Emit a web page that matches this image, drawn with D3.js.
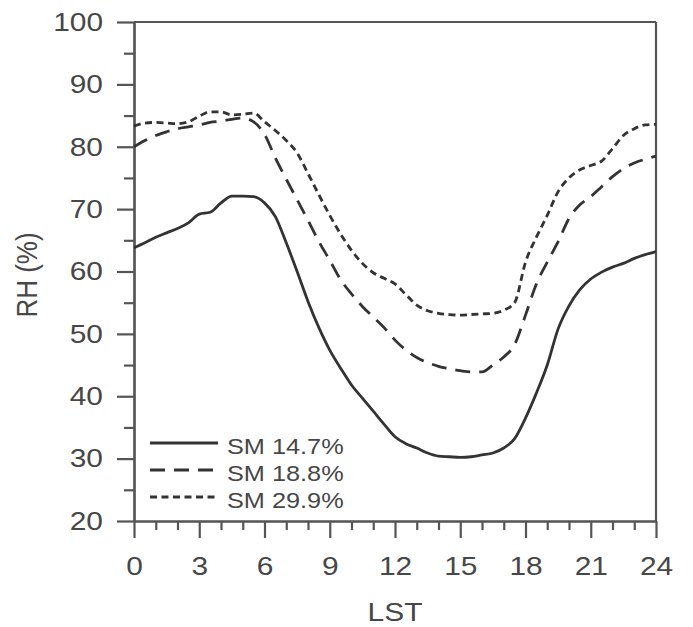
<!DOCTYPE html>
<html>
<head>
<meta charset="utf-8">
<script src="https://cdn.jsdelivr.net/npm/d3@7"></script>
<style>
  body { margin: 0; background: #fff; }
  text { font-family: "Liberation Sans", Arial, sans-serif; }
</style>
</head>
<body>
<div id="chartPlaceholder"></div>
<script>
// local solar time (h), half-hour steps
const hours = [0, 0.5, 1, 1.5, 2, 2.5, 3, 3.5, 4, 4.5, 5, 5.5, 6, 6.5, 7, 7.5, 8, 8.5, 9, 9.5, 10, 10.5, 11, 11.5,
  12, 12.5, 13, 13.5, 14, 14.5, 15, 15.5, 16, 16.5, 17, 17.5, 18, 18.5, 19, 19.5, 20, 20.5, 21, 21.5, 22, 22.5, 23, 23.5, 24];

// RH (%) for each soil moisture case
const rhSM147 = [63.8, 64.6, 65.5, 66.2, 66.9, 67.8, 69.2, 69.5, 71.0, 72.1, 72.1, 72.0, 71.0, 68.8, 64.6, 60.0,
  55.2, 51.0, 47.4, 44.5, 41.8, 39.7, 37.6, 35.5, 33.5, 32.4, 31.7, 30.9, 30.4, 30.3, 30.2, 30.3, 30.6, 30.9,
  31.7, 33.2, 36.5, 40.5, 45.0, 50.8, 54.5, 57.1, 58.8, 59.9, 60.7, 61.3, 62.1, 62.7, 63.2];
const rhSM188 = [80.0, 81.0, 81.8, 82.4, 82.9, 83.2, 83.5, 83.9, 84.1, 84.4, 84.6, 84.0, 82.0, 78.2, 74.8, 71.5,
  68.2, 64.8, 61.8, 58.7, 56.4, 54.4, 52.7, 51.0, 49.0, 47.4, 46.2, 45.4, 44.8, 44.4, 44.1, 43.9, 43.9, 45.0,
  46.3, 48.3, 53.0, 58.0, 61.5, 64.8, 68.5, 70.7, 72.0, 73.6, 75.2, 76.5, 77.4, 78.0, 78.5];
const rhSM299 = [83.3, 83.8, 83.9, 83.8, 83.7, 84.0, 84.9, 85.6, 85.6, 85.1, 85.2, 85.4, 84.0, 82.6, 81.0, 79.0,
  75.7, 72.3, 69.0, 66.0, 63.4, 61.3, 59.8, 58.9, 58.0, 56.3, 54.6, 53.7, 53.3, 53.1, 53.0, 53.1, 53.2, 53.3,
  53.8, 55.0, 61.5, 65.5, 69.0, 72.8, 75.0, 76.3, 77.0, 77.7, 79.7, 81.8, 82.9, 83.5, 83.6];

const seriesNames = ["SM 14.7%", "SM 18.8%", "SM 29.9%"];
const xMajorTicks = [0, 3, 6, 9, 12, 15, 18, 21, 24];
const xMinorTicks = [1, 2, 4, 5, 7, 8, 10, 11, 13, 14, 16, 17, 19, 20, 22, 23];
const yMajorTicks = [20, 30, 40, 50, 60, 70, 80, 90, 100];
const yMinorTicks = [25, 35, 45, 55, 65, 75, 85, 95];

const dashes = ["none", "15,9", "7,4.5"];
const stretch = 1.15; // reference text is a bit wider than Arial

const margin = { top: 22, right: 37, bottom: 106, left: 134 },
  width = 693 - margin.left - margin.right,
  height = 627 - margin.top - margin.bottom;

const root = d3
  .select("#chartPlaceholder")
  .append("svg")
  .attr("width", 693)
  .attr("height", 627);

const svg = root.append("g").attr("transform", `translate(${margin.left}, ${margin.top})`);

const x = d3.scaleLinear().domain([0, 24]).range([0, width]);
const y = d3.scaleLinear().domain([20, 100]).range([height, 0]);

const axisColor = "#555";
const textColor = "#474747";

// minor ticks first
svg
  .append("g")
  .attr("transform", `translate(0, ${height})`)
  .call(d3.axisBottom(x).tickValues(xMinorTicks).tickSize(9).tickFormat("").tickSizeOuter(0));
svg.append("g").call(d3.axisLeft(y).tickValues(yMinorTicks).tickSize(10).tickFormat("").tickSizeOuter(0));

// major x axis
const xAxis = svg
  .append("g")
  .attr("transform", `translate(0, ${height})`)
  .call(d3.axisBottom(x).tickValues(xMajorTicks).tickSize(17).tickPadding(19).tickSizeOuter(0));
xAxis
  .selectAll("text")
  .style("font-size", "26px")
  .attr("fill", textColor)
  .attr("transform", `scale(${stretch},1)`);

// major y axis
const yAxis = svg
  .append("g")
  .call(d3.axisLeft(y).tickValues(yMajorTicks).tickSize(17).tickPadding(14).tickSizeOuter(0));
yAxis
  .selectAll("text")
  .style("font-size", "26px")
  .attr("fill", textColor)
  .attr("x", -31 / stretch)
  .attr("transform", `scale(${stretch},1)`);

svg.selectAll(".domain, .tick line").attr("stroke", axisColor).attr("stroke-width", 2.2);

// top and right frame
svg.append("line").attr("x1", 0).attr("x2", width).attr("y1", 0).attr("y2", 0)
  .attr("stroke", axisColor).attr("stroke-width", 2.2);
svg.append("line").attr("x1", width).attr("x2", width).attr("y1", 0).attr("y2", height)
  .attr("stroke", axisColor).attr("stroke-width", 2.2);

// lines
const allSeries = [rhSM147, rhSM188, rhSM299];
const line = d3
  .line()
  .x((d, i) => x(hours[i]))
  .y((d) => y(d))
  .curve(d3.curveMonotoneX);

allSeries.forEach((values, i) => {
  svg
    .append("path")
    .datum(values)
    .attr("fill", "none")
    .attr("stroke", "#333")
    .attr("stroke-width", 2.8)
    .attr("stroke-dasharray", dashes[i])
    .attr("d", line);
});

// legend
const legend = root.append("g").attr("transform", "translate(150, 443)");
seriesNames.forEach((name, i) => {
  const row = legend.append("g").attr("transform", `translate(0, ${i * 27})`);
  row.append("line")
    .attr("x1", 0).attr("x2", 68).attr("y1", 0).attr("y2", 0)
    .attr("stroke", "#333").attr("stroke-width", 2.8)
    .attr("stroke-dasharray", dashes[i]);
  row.append("text")
    .attr("transform", `translate(77, 11) scale(${stretch},1)`)
    .style("font-size", "22px")
    .attr("fill", textColor)
    .text(name);
});

// axis titles
root.append("text")
  .attr("transform", `translate(395, 621) scale(${stretch},1)`)
  .attr("text-anchor", "middle")
  .style("font-size", "26px")
  .attr("fill", textColor)
  .text("LST");

root.append("text")
  .attr("transform", `translate(37, 275) scale(${stretch},1) rotate(-90)`)
  .attr("text-anchor", "middle")
  .style("font-size", "26px")
  .attr("fill", textColor)
  .text("RH (%)");
</script>
</body>
</html>
